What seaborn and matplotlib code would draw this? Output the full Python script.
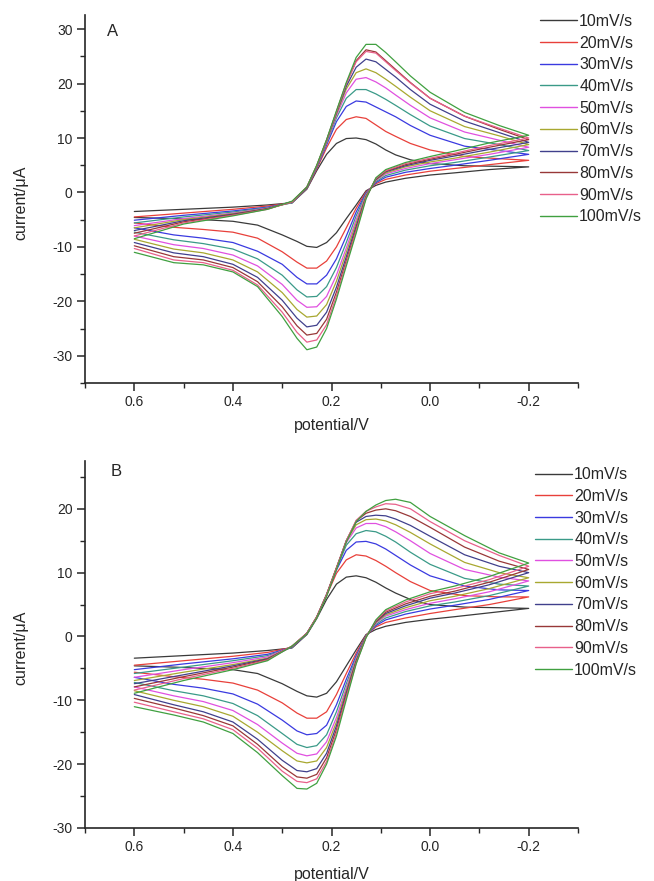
import matplotlib
matplotlib.use("Agg")
import pandas as pd
import seaborn as sns
import matplotlib.pyplot as plt
from matplotlib.lines import Line2D
from matplotlib.ticker import MultipleLocator, FormatStrFormatter

rates = ["10mV/s", "20mV/s", "30mV/s", "40mV/s", "50mV/s",
         "60mV/s", "70mV/s", "80mV/s", "90mV/s", "100mV/s"]
colors = ["#3a3a3a", "#e8403a", "#3a3ae0", "#3a9a88", "#e050e0",
          "#a8a830", "#40408c", "#983838", "#e8608a", "#40a040"]

# potential grid of the forward sweep (0.6 -> -0.2 V) and of the return sweep
fwd_potential = [0.60, 0.50, 0.40, 0.33, 0.28, 0.25, 0.23, 0.21, 0.19, 0.17,
                 0.15, 0.13, 0.11, 0.09, 0.07, 0.04, 0.00, -0.07, -0.14, -0.20]
rev_potential = [-0.20, -0.12, -0.05, 0.00, 0.05, 0.09, 0.11, 0.13, 0.15, 0.17,
                 0.19, 0.21, 0.23, 0.25, 0.27, 0.30, 0.35, 0.40, 0.46, 0.52, 0.60]

# panel A, current in uA, one row per scan rate
a_forward = [
    [-3.5, -3.1, -2.7, -2.3, -1.9, 0.6, 4.0, 7.0, 9.0, 9.9, 10.0, 9.7, 8.9, 7.8, 6.9, 6.0, 5.3, 4.9, 4.8, 4.7],
    [-4.5, -3.8, -3.1, -2.5, -1.9, 0.7, 4.3, 8.2, 11.6, 13.4, 13.9, 13.6, 12.4, 11.2, 10.3, 9.0, 7.8, 6.6, 6.2, 5.9],
    [-5.1, -4.2, -3.4, -2.7, -1.9, 0.8, 4.5, 8.7, 13.0, 15.8, 16.8, 16.6, 15.7, 14.8, 13.9, 12.3, 10.5, 8.5, 7.7, 7.0],
    [-5.6, -4.5, -3.6, -2.8, -1.9, 0.8, 4.6, 9.0, 13.7, 17.3, 18.9, 18.9, 18.1, 17.1, 16.0, 14.3, 12.2, 9.9, 8.8, 7.7],
    [-6.1, -4.8, -3.8, -2.9, -1.8, 0.9, 4.7, 9.2, 14.1, 18.3, 20.8, 21.1, 20.3, 19.2, 17.9, 16.0, 13.7, 11.1, 9.6, 8.3],
    [-6.5, -5.0, -3.9, -3.0, -1.8, 0.9, 4.8, 9.4, 14.4, 19.0, 22.0, 22.7, 22.0, 20.8, 19.5, 17.5, 15.0, 12.1, 10.4, 8.8],
    [-7.0, -5.2, -4.0, -3.0, -1.7, 0.9, 4.8, 9.5, 14.6, 19.5, 23.0, 24.5, 24.0, 22.6, 21.2, 18.9, 16.2, 13.1, 11.0, 9.2],
    [-7.5, -5.4, -4.1, -3.0, -1.7, 1.0, 4.9, 9.6, 14.8, 20.0, 24.2, 26.2, 25.8, 24.2, 22.6, 20.2, 17.3, 14.0, 11.6, 9.7],
    [-8.0, -5.6, -4.2, -3.1, -1.7, 1.0, 4.9, 9.6, 14.8, 20.0, 24.0, 25.9, 25.6, 24.0, 22.4, 20.1, 17.3, 14.0, 11.8, 10.0],
    [-8.5, -5.8, -4.3, -3.1, -1.6, 1.0, 5.0, 9.7, 15.0, 20.2, 24.8, 27.2, 27.2, 25.7, 24.0, 21.4, 18.4, 14.7, 12.3, 10.5],
]
a_reverse = [
    [4.7, 4.2, 3.6, 3.2, 2.6, 1.9, 1.3, 0.3, -2.3, -4.8, -7.4, -9.2, -10.1, -9.9, -9.0, -7.8, -6.0, -5.3, -5.0, -4.8, -4.6],
    [5.9, 5.1, 4.4, 3.9, 3.2, 2.4, 1.6, 0.1, -2.9, -6.5, -10.0, -12.6, -13.9, -13.9, -12.8, -10.9, -8.4, -7.3, -6.8, -6.4, -5.6],
    [7.0, 5.9, 5.0, 4.4, 3.7, 2.8, 1.8, -0.1, -3.6, -8.0, -12.2, -15.2, -16.8, -16.8, -15.6, -13.2, -10.8, -9.2, -8.4, -7.8, -6.5],
    [7.7, 6.5, 5.5, 4.9, 4.1, 3.1, 2.0, -0.3, -4.3, -9.2, -13.8, -17.3, -19.1, -19.2, -17.9, -15.2, -12.2, -10.4, -9.4, -8.7, -7.3],
    [8.3, 7.0, 6.0, 5.3, 4.4, 3.4, 2.2, -0.5, -5.0, -10.2, -15.2, -19.1, -21.0, -21.1, -19.8, -16.9, -13.5, -11.5, -10.3, -9.6, -8.0],
    [8.8, 7.4, 6.3, 5.6, 4.7, 3.6, 2.3, -0.6, -5.6, -11.0, -16.3, -20.6, -22.7, -22.9, -21.5, -18.4, -14.6, -12.4, -11.1, -10.4, -8.6],
    [9.2, 7.9, 6.7, 5.9, 4.9, 3.8, 2.4, -0.8, -6.2, -11.8, -17.4, -22.0, -24.4, -24.7, -23.1, -19.8, -15.6, -13.2, -11.8, -11.1, -9.2],
    [9.7, 8.3, 7.0, 6.1, 5.1, 3.9, 2.5, -0.9, -6.7, -12.5, -18.3, -23.3, -25.9, -26.2, -24.5, -21.0, -16.4, -13.8, -12.4, -11.8, -9.8],
    [10.0, 8.6, 7.2, 6.3, 5.3, 4.0, 2.6, -1.0, -7.1, -13.0, -19.0, -24.3, -27.1, -27.5, -25.7, -22.0, -17.0, -14.3, -12.9, -12.4, -10.3],
    [10.5, 9.1, 7.6, 6.6, 5.5, 4.2, 2.7, -1.2, -7.5, -13.5, -19.6, -25.0, -28.4, -28.9, -26.8, -22.8, -17.3, -14.6, -13.3, -12.9, -11.0],
]

# panel B
b_forward = [
    [-3.4, -3.0, -2.6, -2.2, -1.8, 0.3, 2.8, 5.8, 8.2, 9.3, 9.5, 9.2, 8.5, 7.6, 6.8, 5.8, 5.0, 4.6, 4.5, 4.4],
    [-4.5, -3.8, -3.1, -2.5, -1.7, 0.4, 3.0, 6.4, 9.9, 12.0, 12.8, 12.6, 11.9, 11.0, 10.0, 8.6, 7.2, 6.4, 6.2, 6.2],
    [-5.2, -4.3, -3.5, -2.8, -1.7, 0.4, 3.0, 6.5, 10.4, 13.5, 14.8, 14.9, 14.5, 13.7, 12.7, 11.2, 9.5, 7.9, 7.3, 7.2],
    [-5.8, -4.8, -3.8, -3.0, -1.7, 0.5, 3.0, 6.6, 10.6, 14.3, 16.1, 16.6, 16.4, 15.7, 14.8, 13.2, 11.3, 9.1, 8.2, 7.9],
    [-6.4, -5.2, -4.1, -3.2, -1.6, 0.5, 3.1, 6.6, 10.7, 14.7, 17.0, 17.7, 17.7, 17.2, 16.4, 15.0, 13.0, 10.5, 9.3, 8.7],
    [-6.9, -5.6, -4.4, -3.4, -1.6, 0.5, 3.1, 6.6, 10.8, 14.9, 17.5, 18.3, 18.4, 18.1, 17.5, 16.3, 14.5, 11.6, 10.0, 9.2],
    [-7.4, -6.0, -4.6, -3.5, -1.6, 0.5, 3.0, 6.5, 10.7, 15.0, 17.9, 18.8, 19.0, 18.9, 18.4, 17.4, 15.7, 12.8, 11.0, 10.0],
    [-7.9, -6.3, -4.8, -3.6, -1.5, 0.5, 3.0, 6.5, 10.7, 15.0, 18.1, 19.3, 19.8, 20.0, 19.7, 18.8, 17.1, 14.0, 11.8, 10.5],
    [-8.4, -6.6, -5.0, -3.7, -1.5, 0.5, 3.0, 6.5, 10.7, 15.0, 18.2, 19.6, 20.3, 20.8, 20.7, 20.0, 18.0, 15.0, 12.7, 11.0],
    [-8.9, -6.9, -5.2, -3.8, -1.5, 0.4, 2.9, 6.3, 10.5, 14.8, 18.0, 19.6, 20.6, 21.3, 21.5, 21.0, 18.8, 15.8, 13.1, 11.5],
]
b_reverse = [
    [4.4, 3.7, 3.1, 2.7, 2.2, 1.6, 1.1, 0.3, -2.1, -4.6, -7.1, -8.9, -9.5, -9.3, -8.6, -7.4, -5.8, -5.2, -5.0, -4.8, -4.6],
    [6.2, 5.0, 4.2, 3.6, 2.9, 2.2, 1.5, 0.2, -2.6, -5.8, -9.1, -11.8, -12.8, -12.8, -12.0, -10.4, -8.4, -7.3, -6.7, -6.3, -5.6],
    [7.2, 5.8, 4.9, 4.3, 3.5, 2.6, 1.7, 0.1, -3.0, -6.7, -10.7, -13.9, -15.2, -15.4, -14.8, -13.1, -10.6, -9.0, -8.1, -7.5, -6.4],
    [7.9, 6.4, 5.4, 4.8, 3.9, 2.9, 1.9, 0.1, -3.3, -7.4, -11.8, -15.4, -17.1, -17.4, -16.9, -15.2, -12.4, -10.5, -9.3, -8.5, -7.2],
    [8.7, 7.0, 5.9, 5.2, 4.2, 3.2, 2.1, 0.0, -3.5, -8.0, -12.7, -16.5, -18.4, -18.7, -18.3, -16.7, -13.8, -11.6, -10.2, -9.3, -7.9],
    [9.2, 7.5, 6.3, 5.6, 4.5, 3.4, 2.2, 0.0, -3.7, -8.4, -13.4, -17.4, -19.5, -19.8, -19.5, -17.9, -15.0, -12.5, -11.0, -10.0, -8.5],
    [10.0, 8.1, 6.8, 6.0, 4.8, 3.6, 2.3, 0.0, -3.9, -8.8, -14.0, -18.3, -20.7, -21.2, -21.0, -19.4, -16.1, -13.4, -11.8, -10.7, -9.1],
    [10.5, 8.5, 7.1, 6.3, 5.1, 3.8, 2.4, -0.1, -4.0, -9.2, -14.6, -19.0, -21.6, -22.2, -22.0, -20.4, -16.9, -14.0, -12.4, -11.2, -9.7],
    [11.0, 8.9, 7.5, 6.7, 5.4, 4.0, 2.5, -0.1, -4.2, -9.5, -15.1, -19.6, -22.3, -22.9, -22.7, -21.1, -17.5, -14.6, -12.9, -11.8, -10.3],
    [11.5, 9.4, 7.9, 7.0, 5.7, 4.2, 2.6, -0.2, -4.3, -9.9, -15.6, -20.0, -23.0, -23.9, -23.8, -21.8, -18.2, -15.2, -13.4, -12.3, -11.0],
]


def to_frame(forward, reverse):
    '''
    one closed voltammogram per scan rate, points kept in sweep order
    '''
    rows = []
    for rate, f, r in zip(rates, forward, reverse):
        pot = fwd_potential + rev_potential
        cur = f + r
        for step, (e, i) in enumerate(zip(pot, cur)):
            rows.append((rate, step, e, i))
    return pd.DataFrame(rows, columns=["rate", "step", "potential", "current"])


def draw_panel(ax, df, ylim, letter, letter_xy, legend_xy, xlabel_y):
    sns.lineplot(data=df, x="potential", y="current", hue="rate",
                 hue_order=rates, palette=colors, sort=False,
                 estimator=None, linewidth=0.9, legend=False, ax=ax)
    ax.set_xlim(0.7, -0.3)
    ax.set_ylim(*ylim)
    sns.despine(ax=ax)
    for side in ["left", "bottom"]:
        ax.spines[side].set_linewidth(1.2)
    ax.xaxis.set_major_locator(MultipleLocator(0.2))
    ax.xaxis.set_minor_locator(MultipleLocator(0.1))
    ax.xaxis.set_major_formatter(FormatStrFormatter("%.1f"))
    ax.yaxis.set_major_locator(MultipleLocator(10))
    ax.yaxis.set_minor_locator(MultipleLocator(5))
    ax.tick_params(which="major", direction="out", length=6, width=1.1,
                   labelsize=10, pad=3)
    ax.tick_params(which="minor", direction="out", length=3.5, width=1.0)
    ax.set_xlabel("potential/V", fontsize=11.5)
    ax.set_ylabel("current/\u03bcA", fontsize=11.5)
    ax.yaxis.set_label_coords(-0.114, 0.49)
    ax.xaxis.set_label_coords(0.5, xlabel_y)
    ax.text(letter_xy[0], letter_xy[1], letter, transform=ax.transAxes,
            fontsize=12, ha="center", va="center")
    handles = [Line2D([], [], color=c, lw=1.0) for c in colors]
    ax.legend(handles, rates, loc="upper left", bbox_to_anchor=legend_xy,
              frameon=False, fontsize=11.5, handlelength=2.3,
              handletextpad=0.15, labelspacing=0.42, borderpad=0,
              borderaxespad=0)


sns.set_style("ticks")
plt.rcParams["font.family"] = ["Liberation Sans", "DejaVu Sans"]
plt.rcParams["axes.unicode_minus"] = False

fig = plt.figure(figsize=(6.54, 8.81), dpi=100)
ax_a = fig.add_axes([0.130, 0.5653, 0.7538, 0.4177])
ax_b = fig.add_axes([0.130, 0.0602, 0.7538, 0.4166])

draw_panel(ax_a, to_frame(a_forward, a_reverse), (-35, 32.6), "A",
           (0.055, 0.955), (0.923, 1.003), -0.095)
draw_panel(ax_b, to_frame(b_forward, b_reverse), (-30, 27.5), "B",
           (0.064, 0.97), (0.913, 0.983), -0.106)

fig.savefig("out.png", dpi=100)
plt.close(fig)
